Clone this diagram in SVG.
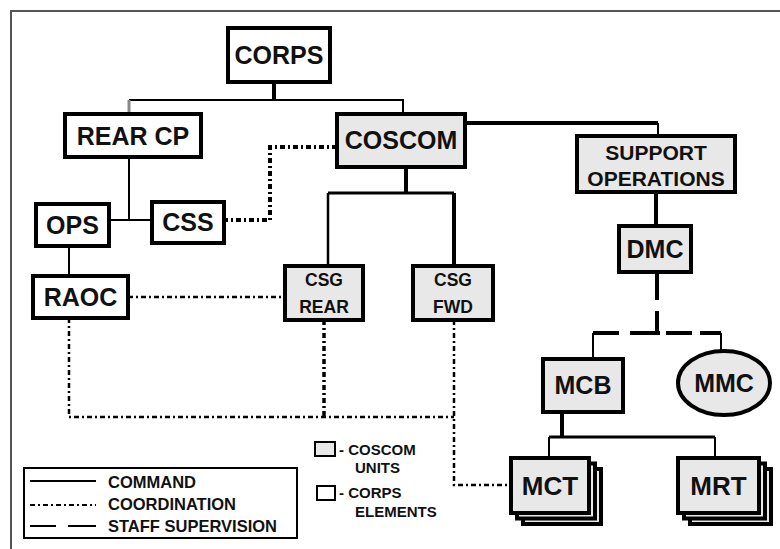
<svg xmlns="http://www.w3.org/2000/svg" width="780" height="549" viewBox="0 0 780 549">
<style>
.n{fill:#fff;stroke:#000;stroke-width:4}
.g{fill:#e8e8e8;stroke:#000;stroke-width:4}
.t{font-family:"Liberation Sans",Arial,sans-serif;font-weight:bold;fill:#111;text-anchor:middle}
.l{font-family:"Liberation Sans",Arial,sans-serif;font-weight:bold;fill:#111}
.c{fill:none;stroke:#000}
.co{fill:none;stroke:#000;stroke-dasharray:5 3 2 3}
.ss{fill:none;stroke:#000;stroke-width:4}
</style>
<rect width="780" height="549" fill="#fff"/>
<path d="M11,549 V11 H780" fill="none" stroke="#555" stroke-width="2"/>

<g id="connectors">
  <path class="c" d="M274,82 V100" stroke-width="4"/>
  <path class="c" d="M129,100 H403 V114" stroke-width="2"/>
  <path d="M129,100 V114" stroke="#888" stroke-width="3" fill="none"/>
  <path class="c" d="M129,157 V220" stroke="#222" stroke-width="2"/>
  <path class="c" d="M109,220 H152" stroke-width="2"/>
  <path class="c" d="M69,246 V276" stroke-width="2"/>
  <path class="c" d="M406,167 V193" stroke-width="4"/>
  <path class="c" d="M328,193 H454" stroke-width="3"/>
  <path class="c" d="M328,193 V266" stroke-width="2.5"/>
  <path class="c" d="M454,193 V266" stroke-width="4"/>
  <path class="c" d="M465,123 H658" stroke-width="4"/>
  <path class="c" d="M658,123 V136" stroke-width="2"/>
  <path class="c" d="M656,192 V226" stroke-width="4"/>
  <path class="ss" d="M657,272 V300 M657,311 V333 M593,333 H619 M630,333 H660 M666,333 H692 M700,333 H721"/>
  <path class="c" d="M593,333 V359" stroke-width="2"/>
  <path class="c" d="M721,333 V351" stroke-width="2"/>
  <path class="c" d="M562,412 V437" stroke-width="4"/>
  <path class="c" d="M549,437 H715" stroke-width="3"/>
  <path class="c" d="M549,437 V458 M715,437 V458" stroke-width="2"/>
  <path class="co" d="M337,147 H270 V220 H224" stroke-width="4"/>
  <path class="co" d="M128,297 H285" stroke-width="2.5"/>
  <path class="co" d="M69,318 V417 H454" stroke-width="2.5"/>
  <path class="co" d="M324,320 V417" stroke-width="3.5"/>
  <path class="co" d="M454,320 V485 H511" stroke-width="2.5"/>
</g>

<g id="corps"><rect class="n" x="228" y="28" width="102" height="54"/><text class="t" x="279" y="64" font-size="25">CORPS</text></g>
<g id="rearcp"><rect class="n" x="65" y="114" width="136" height="43"/><text class="t" x="133" y="145" font-size="25">REAR CP</text></g>
<g id="coscom"><rect class="g" x="337" y="114" width="128" height="53"/><text class="t" x="401" y="149" font-size="25">COSCOM</text></g>
<g id="ops"><rect class="n" x="36" y="204" width="73" height="42"/><text class="t" x="72.5" y="234" font-size="25">OPS</text></g>
<g id="css"><rect class="n" x="152" y="202" width="72" height="41"/><text class="t" x="188" y="231" font-size="25">CSS</text></g>
<g id="raoc"><rect class="n" x="33" y="276" width="95" height="42"/><text class="t" x="80.5" y="306" font-size="25">RAOC</text></g>
<g id="csgrear"><rect class="g" x="285" y="266" width="78" height="54"/><text class="t" x="324" y="286" font-size="17.5">CSG</text><text class="t" x="324" y="313" font-size="17.5">REAR</text></g>
<g id="csgfwd"><rect class="g" x="413" y="266" width="80" height="54"/><text class="t" x="453" y="286" font-size="17.5">CSG</text><text class="t" x="453" y="313" font-size="17.5">FWD</text></g>
<g id="supops"><rect class="g" x="577" y="136" width="158" height="56"/><text class="t" x="656" y="160" font-size="21">SUPPORT</text><text class="t" x="656" y="186" font-size="21">OPERATIONS</text></g>
<g id="dmc"><rect class="g" x="619" y="226" width="72" height="46"/><text class="t" x="655" y="258" font-size="25">DMC</text></g>
<g id="mcb"><rect class="g" x="543" y="359" width="80" height="53"/><text class="t" x="583" y="394" font-size="25">MCB</text></g>
<g id="mmc"><ellipse class="g" cx="724" cy="383" rx="46" ry="32"/><text class="t" x="724" y="392" font-size="25">MMC</text></g>
<g id="mct">
  <rect class="g" x="523" y="469" width="78" height="55" stroke-width="3.5"/>
  <rect class="g" x="517" y="463.5" width="78" height="55" stroke-width="3.5"/>
  <rect class="g" x="511" y="458" width="78" height="55"/>
  <text class="t" x="550" y="495" font-size="26">MCT</text>
</g>
<g id="mrt">
  <rect class="g" x="690" y="469" width="81" height="55" stroke-width="3.5"/>
  <rect class="g" x="684" y="463.5" width="81" height="55" stroke-width="3.5"/>
  <rect class="g" x="678" y="458" width="81" height="55"/>
  <text class="t" x="718.5" y="495" font-size="26">MRT</text>
</g>

<g id="legend-lines">
  <rect x="24" y="468" width="273" height="70" fill="#fff" stroke="#000" stroke-width="2"/>
  <path class="c" d="M30,481 H96" stroke-width="2"/>
  <path class="co" d="M30,505 H96" stroke-width="2"/>
  <path class="c" d="M30,526 H56 M68,526 H96" stroke-width="2"/>
  <text class="l" x="108" y="488" font-size="16.5">COMMAND</text>
  <text class="l" x="108" y="510" font-size="16.5">COORDINATION</text>
  <text class="l" x="108" y="532" font-size="16.5">STAFF SUPERVISION</text>
</g>
<g id="legend-boxes">
  <rect x="315" y="442" width="20" height="14" fill="#e8e8e8" stroke="#000" stroke-width="2"/>
  <rect x="317" y="486" width="18" height="14" fill="#fff" stroke="#000" stroke-width="2"/>
  <text class="l" x="339" y="455" font-size="15">- COSCOM</text>
  <text class="l" x="355" y="473" font-size="15">UNITS</text>
  <text class="l" x="339" y="498" font-size="15">- CORPS</text>
  <text class="l" x="355" y="517" font-size="15">ELEMENTS</text>
</g>
</svg>
